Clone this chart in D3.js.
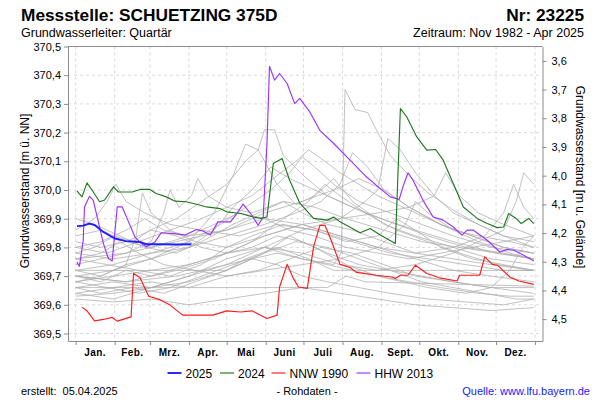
<!DOCTYPE html>
<html><head><meta charset="utf-8">
<script src="https://cdn.jsdelivr.net/npm/d3@7/dist/d3.min.js"></script>
<style>
body{margin:0;background:#fff;}
svg text{font-family:"Liberation Sans",Arial,sans-serif;fill:#000;}
</style>
</head><body>
<svg id="chart" width="600" height="400"></svg>
<script>
// ---------- DATA ----------
const monthLabels = ["Jan.","Feb.","Mrz.","Apr.","Mai","Juni","Juli","Aug.","Sept.","Okt.","Nov.","Dez."];
const monthStarts = [0,31,59,90,120,151,181,212,243,273,304,334,365];
const levelTicks = [369.5,369.6,369.7,369.8,369.9,370.0,370.1,370.2,370.3,370.4,370.5];
const depthTicks = [3.6,3.7,3.8,3.9,4.0,4.1,4.2,4.3,4.4,4.5];
const groundLevel = 374.05;
const legendNames = ["2025","2024","NNW 1990","HHW 2013"];

const days2025 = [1,6,11,15,22,31,40,51,56,67,80,92];
const values2025 = [369.874,369.876,369.883,369.878,369.854,369.831,369.822,369.819,369.811,369.811,369.810,369.811];

const days2024 = [1,5,9,14,19,23,30,34,45,51,59,64,72,79,88,99,104,115,120,131,141,147,152,157,164,170,178,189,200,205,210,226,234,242,254,258,263,271,279,286,292,300,308,319,327,335,340,344,350,354,360,364];
const values2024 = [369.997,369.976,370.025,369.993,369.959,369.965,370.011,369.993,369.993,370.002,370.002,369.988,369.976,369.961,369.959,369.947,369.941,369.935,369.924,369.918,369.906,369.901,369.906,370.092,370.110,370.034,369.955,369.901,369.895,369.906,369.889,369.851,369.866,369.843,369.814,370.284,370.255,370.185,370.139,370.141,370.104,370.023,369.941,369.901,369.883,369.869,369.871,369.918,369.901,369.883,369.901,369.883];

const daysNNW1990 = [5,9,15,22,29,33,44,46,51,58,67,75,85,109,120,131,140,152,160,162,168,173,177,184,189,194,198,203,210,218,223,239,251,254,258,264,270,279,289,303,305,321,325,331,335,345,352,364];
const valuesNNW1990 = [369.591,369.579,369.544,369.549,369.556,369.543,369.558,369.709,369.695,369.630,369.618,369.599,369.564,369.564,369.579,369.575,369.579,369.552,369.564,369.662,369.741,369.692,369.662,369.657,369.802,369.877,369.877,369.825,369.741,369.730,369.713,369.703,369.697,369.692,369.703,369.703,369.738,369.709,369.694,369.683,369.703,369.703,369.767,369.741,369.738,369.697,369.683,369.671];

const daysHHW2013 = [1,3,6,7,11,14,18,22,26,29,33,37,42,47,52,56,63,68,78,87,96,101,107,113,123,128,133,140,145,149,152,154,158,162,168,174,178,186,194,205,218,231,242,250,257,260,264,268,276,284,292,300,307,311,316,327,337,343,348,356,364];
const valuesHHW2013 = [369.749,369.734,369.825,369.941,369.978,369.964,369.889,369.814,369.761,369.753,369.941,369.941,369.889,369.837,369.814,369.802,369.819,369.851,369.848,369.843,369.862,369.857,369.843,369.889,369.889,369.918,369.951,369.912,369.877,369.906,370.162,370.431,370.383,370.406,370.371,370.301,370.319,370.272,370.208,370.162,370.104,370.046,370.005,369.976,369.967,370.011,370.060,370.034,369.964,369.906,369.895,369.871,369.843,369.860,369.860,369.825,369.784,369.793,369.790,369.773,369.753];

// other years (grey), [day, level]
const grey01 = [[0,369.70],[20,369.68],[40,369.72],[60,369.70],[90,369.74],[120,369.78],[150,369.80],[180,369.76],[205,369.74],[211,369.78],[214,370.35],[222,370.28],[232,370.27],[240,370.20],[250,370.12],[265,370.05],[280,369.99],[300,369.93],[320,369.88],[340,369.84],[364,369.80]];
const grey02 = [[0,369.78],[15,369.80],[31,369.84],[46,369.82],[59,369.86],[80,369.90],[100,369.96],[120,370.02],[135,370.10],[145,370.14],[150,370.21],[158,370.21],[165,370.12],[181,370.05],[200,369.98],[220,369.94],[243,369.90],[270,369.86],[300,369.82],[334,369.78],[364,369.76]];
const grey03 = [[0,369.72],[20,369.70],[40,369.74],[60,369.76],[90,369.82],[110,369.92],[125,370.05],[135,370.16],[145,370.14],[160,370.02],[175,369.95],[190,369.98],[205,370.04],[220,369.96],[245,369.88],[270,369.84],[300,369.80],[330,369.76],[364,369.74]];
const grey04 = [[0,369.80],[25,369.78],[50,369.82],[75,369.86],[100,369.90],[120,369.94],[140,369.98],[160,370.05],[175,370.10],[185,370.14],[195,370.11],[210,370.06],[225,370.02],[240,369.98],[260,369.94],[280,369.90],[300,369.86],[320,369.84],[345,369.82],[364,369.80]];
const grey05 = [[0,369.66],[30,369.68],[60,369.66],[90,369.70],[120,369.74],[150,369.80],[180,369.86],[210,369.90],[230,369.96],[240,370.00],[248,370.18],[258,370.14],[270,370.06],[285,369.98],[300,369.92],[320,369.88],[340,369.84],[364,369.82]];
const grey06 = [[0,369.64],[30,369.62],[60,369.66],[90,369.70],[120,369.76],[150,369.80],[180,369.78],[210,369.74],[240,369.72],[270,369.74],[300,369.78],[320,369.82],[340,369.86],[350,369.96],[356,370.06],[364,370.02]];
const grey07 = [[0,369.84],[20,369.86],[40,369.82],[60,369.80],[90,369.84],[120,369.86],[150,369.90],[180,369.88],[210,369.84],[240,369.80],[270,369.78],[300,369.80],[325,369.84],[340,369.92],[348,370.02],[356,369.94],[364,369.90]];
const grey08 = [[0,369.86],[15,369.90],[25,369.96],[32,370.02],[40,369.96],[55,369.92],[75,369.88],[100,369.86],[130,369.84],[160,369.88],[190,369.86],[220,369.82],[250,369.78],[280,369.76],[310,369.74],[340,369.72],[364,369.72]];
const grey09 = [[0,369.68],[20,369.70],[40,369.74],[48,369.84],[53,369.99],[60,369.92],[75,369.86],[95,369.82],[120,369.80],[150,369.84],[180,369.88],[210,369.84],[240,369.80],[270,369.76],[300,369.72],[330,369.70],[364,369.68]];
const grey10 = [[0,369.74],[20,369.76],[40,369.78],[60,369.82],[70,369.92],[75,370.00],[82,369.94],[92,369.98],[97,370.04],[105,369.98],[120,369.94],[140,369.92],[165,369.96],[190,369.94],[215,369.90],[245,369.86],[275,369.82],[305,369.80],[335,369.78],[364,369.76]];
const grey11 = [[0,369.62],[30,369.61],[60,369.62],[90,369.60],[120,369.62],[150,369.64],[180,369.66],[210,369.64],[240,369.62],[270,369.60],[300,369.59],[330,369.58],[364,369.59]];
const grey12 = [[0,369.66],[20,369.64],[45,369.66],[70,369.64],[95,369.68],[120,369.72],[140,369.76],[160,369.74],[180,369.70],[200,369.68],[225,369.66],[250,369.64],[280,369.62],[310,369.61],[340,369.60],[364,369.62]];
const grey13 = [[0,369.72],[120,369.72],[135,369.76],[160,369.80],[185,369.76],[205,369.72],[364,369.72]];
const grey14 = [[0,369.66],[200,369.66],[215,369.70],[230,369.68],[364,369.665]];
const grey15 = [[0,369.90],[15,369.88],[35,369.84],[55,369.80],[80,369.78],[100,369.82],[125,369.88],[145,369.92],[165,369.96],[180,369.92],[200,369.88],[220,369.86],[245,369.82],[270,369.78],[300,369.76],[330,369.74],[364,369.72]];
const grey16 = [[0,369.70],[30,369.72],[60,369.76],[90,369.80],[110,369.86],[125,369.94],[140,370.00],[155,370.08],[170,370.04],[190,370.00],[210,369.96],[230,369.92],[255,369.88],[280,369.84],[310,369.80],[340,369.78],[364,369.76]];
const grey17 = [[0,369.76],[25,369.74],[50,369.72],[75,369.70],[100,369.74],[120,369.80],[140,369.84],[165,369.88],[190,369.86],[215,369.82],[240,369.84],[255,369.90],[270,369.86],[290,369.80],[315,369.76],[340,369.74],[364,369.72]];
const grey18 = [[0,369.64],[30,369.66],[60,369.68],[90,369.66],[120,369.70],[150,369.72],[180,369.74],[210,369.76],[240,369.80],[262,369.88],[270,369.96],[280,369.92],[300,369.86],[320,369.82],[345,369.78],[364,369.76]];
const grey19 = [[0,369.68],[30,369.70],[60,369.72],[90,369.74],[120,369.78],[150,369.84],[180,369.88],[210,369.90],[240,369.92],[265,369.94],[285,369.98],[294,370.06],[305,369.98],[320,369.92],[340,369.88],[364,369.84]];
const grey20 = [[0,369.82],[20,369.80],[40,369.82],[60,369.86],[80,369.84],[100,369.80],[120,369.78],[140,369.80],[160,369.84],[180,369.82],[200,369.78],[225,369.74],[250,369.72],[275,369.70],[300,369.68],[330,369.66],[364,369.66]];
const grey21 = [[0,369.70],[40,369.68],[80,369.72],[110,369.76],[140,369.82],[165,369.90],[185,369.96],[198,370.02],[210,369.98],[230,369.92],[255,369.86],[280,369.82],[305,369.78],[335,369.74],[364,369.72]];
const grey22 = [[0,369.76],[20,369.78],[35,369.82],[50,369.78],[70,369.74],[95,369.72],[120,369.70],[145,369.72],[170,369.76],[195,369.80],[220,369.78],[245,369.74],[270,369.70],[300,369.68],[330,369.66],[364,369.64]];
const grey23 = [[0,369.68],[25,369.66],[50,369.64],[75,369.66],[100,369.70],[125,369.74],[150,369.78],[175,369.82],[200,369.80],[225,369.76],[250,369.72],[275,369.68],[300,369.66],[325,369.64],[350,369.62],[364,369.62]];
const grey24 = [[0,369.72],[30,369.74],[60,369.78],[90,369.80],[120,369.84],[150,369.88],[175,369.92],[195,369.96],[210,370.02],[220,370.13],[232,370.08],[245,370.00],[265,369.94],[290,369.88],[315,369.84],[340,369.80],[364,369.78]];
const grey25 = [[0,369.78],[30,369.76],[60,369.78],[90,369.82],[115,369.88],[135,369.94],[155,370.00],[170,370.06],[180,370.115],[190,370.08],[205,370.02],[225,369.96],[250,369.92],[275,369.88],[300,369.84],[330,369.80],[364,369.78]];
const grey26 = [[0,369.80],[20,369.82],[40,369.86],[55,369.90],[70,369.86],[90,369.84],[110,369.88],[130,369.92],[150,369.90],[170,369.86],[190,369.84],[215,369.80],[240,369.78],[265,369.76],[290,369.78],[315,369.80],[340,369.82],[364,369.84]];
const grey27 = [[0,369.63],[30,369.64],[60,369.66],[90,369.68],[120,369.72],[150,369.78],[170,369.84],[190,369.80],[215,369.74],[240,369.70],[265,369.68],[290,369.66],[320,369.64],[345,369.63],[364,369.63]];
const grey28 = [[0,369.70],[40,369.68],[80,369.70],[120,369.74],[160,369.78],[200,369.74],[240,369.70],[280,369.66],[310,369.64],[330,369.66],[345,369.72],[355,369.80],[364,369.84]];
const grey29 = [[0,369.76],[40,369.78],[80,369.82],[120,369.86],[150,369.92],[180,369.96],[205,370.00],[225,370.04],[245,370.00],[265,369.94],[290,369.88],[315,369.84],[340,369.80],[364,369.78]];
const greySeries = [grey01,grey02,grey03,grey04,grey05,grey06,grey07,grey08,grey09,grey10,grey11,grey12,grey13,grey14,grey15,grey16,grey17,grey18,grey19,grey20,grey21,grey22,grey23,grey24,grey25,grey26,grey27,grey28,grey29];

// ---------- LAYOUT ----------
const svg = d3.select("#chart");
const L = 68, R = 542.5, T = 46.5, B = 341;
const x = d3.scaleLinear().domain([-6.1, 370.9]).range([L, R]);
const yTopVal = 370.5, yBotVal = 369.5 - (B - 333.5) / 287;
const y = d3.scaleLinear().domain([yBotVal, yTopVal]).range([B, T]);
const yDepth = d3.scaleLinear().domain([groundLevel - yBotVal, groundLevel - yTopVal]).range([B, T]);
const fmt = d => d.toFixed(1).replace(".", ",");
const axisColor = "#8c8c8c";

// grid
const grid = svg.append("g");
grid.selectAll("line.h").data(levelTicks.slice(0, -1)).join("line")
  .attr("x1", L).attr("x2", R).attr("y1", d => y(d)).attr("y2", d => y(d))
  .attr("stroke", "#d9d9d9").attr("stroke-dasharray", "3,3").attr("stroke-width", 1);
grid.selectAll("line.v").data(monthStarts).join("line")
  .attr("x1", d => x(d)).attr("x2", d => x(d)).attr("y1", T).attr("y2", B)
  .attr("stroke", "#d9d9d9").attr("stroke-dasharray", "3,3").attr("stroke-width", 1);

// lines
const clip = svg.append("clipPath").attr("id", "clp").append("rect")
  .attr("x", L).attr("y", T).attr("width", R - L).attr("height", B - T);
const plot = svg.append("g").attr("clip-path", "url(#clp)");
const line = d3.line().x(d => x(d[0])).y(d => y(d[1]));
plot.selectAll("path.grey").data(greySeries).join("path")
  .attr("d", line).attr("fill", "none").attr("stroke", "#adadad")
  .attr("stroke-width", 0.9).attr("stroke-opacity", 0.85);

const zip = (ds, vs) => ds.map((d, i) => [d, vs[i]]);
const mainSeries = [
  {data: zip(daysNNW1990, valuesNNW1990), color: "#ff1a1a", w: 1.15},
  {data: zip(daysHHW2013, valuesHHW2013), color: "#9933ff", w: 1.15},
  {data: zip(days2024, values2024), color: "#217821", w: 1.15},
  {data: zip(days2025, values2025), color: "#1f1fff", w: 1.9}
];
plot.selectAll("path.main").data(mainSeries).join("path")
  .attr("d", d => line(d.data)).attr("fill", "none")
  .attr("stroke", d => d.color).attr("stroke-width", d => d.w)
  .attr("stroke-linejoin", "round");

// axes
const styleAxis = g => {
  g.select(".domain").attr("stroke", axisColor);
  g.selectAll(".tick line").attr("stroke", axisColor);
  g.selectAll(".tick text").attr("font-size", 11).attr("font-family", "Liberation Sans, Arial, sans-serif").attr("fill", "#000");
};
svg.append("g").attr("transform", `translate(${L},0)`)
  .call(d3.axisLeft(y).tickValues(levelTicks).tickFormat(fmt).tickSize(4).tickSizeOuter(0).tickPadding(3))
  .call(styleAxis);
svg.append("g").attr("transform", `translate(${R},0)`)
  .call(d3.axisRight(yDepth).tickValues(depthTicks).tickFormat(fmt).tickSize(4).tickSizeOuter(0).tickPadding(5))
  .call(styleAxis);
svg.append("g").attr("transform", `translate(0,${B})`)
  .call(d3.axisBottom(x).tickValues(monthStarts).tickFormat("").tickSize(4).tickSizeOuter(0))
  .call(styleAxis);
svg.append("line").attr("x1", L).attr("x2", R).attr("y1", T).attr("y2", T).attr("stroke", axisColor);

// month labels
svg.append("g").selectAll("text").data(monthLabels).join("text")
  .attr("x", (d, i) => x((monthStarts[i] + monthStarts[i + 1]) / 2))
  .attr("y", 356).attr("text-anchor", "middle")
  .attr("font-size", 10).attr("font-weight", "bold").attr("letter-spacing", 0.4)
  .text(d => d);

// titles
svg.append("text").attr("x", 21).attr("y", 21).attr("font-size", 17.3).attr("font-weight", "bold").text("Messstelle: SCHUETZING 375D");
svg.append("text").attr("x", 584).attr("y", 21).attr("text-anchor", "end").attr("font-size", 17.3).attr("font-weight", "bold").text("Nr: 23225");
svg.append("text").attr("x", 21).attr("y", 37).attr("font-size", 12.5).text("Grundwasserleiter: Quartär");
svg.append("text").attr("x", 584).attr("y", 37).attr("text-anchor", "end").attr("font-size", 12.5).text("Zeitraum: Nov 1982 - Apr 2025");

svg.append("text").attr("transform", "translate(29,191) rotate(-90)").attr("text-anchor", "middle").attr("font-size", 12).text("Grundwasserstand [m ü. NN]");
svg.append("text").attr("transform", "translate(576,177) rotate(90)").attr("text-anchor", "middle").attr("font-size", 12).text("Grundwasserstand [m u. Gelände]");

// legend
const legColors = ["#1f1fff", "#217821", "#ff1a1a", "#9933ff"];
const legWidths = [1.9, 1.15, 1.15, 1.15];
const legX = [167.5, 220, 271.5, 356.5];
const lg = svg.append("g");
legendNames.forEach((n, i) => {
  lg.append("line").attr("x1", legX[i]).attr("x2", legX[i] + 14).attr("y1", 373).attr("y2", 373)
    .attr("stroke", legColors[i]).attr("stroke-width", legWidths[i]);
  lg.append("text").attr("x", legX[i] + 18).attr("y", 377.5).attr("font-size", 12).text(n);
});

// footer
svg.append("text").attr("x", 21).attr("y", 395).attr("font-size", 11).attr("xml:space", "preserve").text("erstellt:  05.04.2025");
svg.append("text").attr("x", 307).attr("y", 395).attr("text-anchor", "middle").attr("font-size", 11).text("- Rohdaten -");
svg.append("text").attr("x", 590).attr("y", 395).attr("text-anchor", "end").attr("font-size", 11).style("fill", "#1a1aff").text("Quelle: www.lfu.bayern.de");
</script>
</body></html>
